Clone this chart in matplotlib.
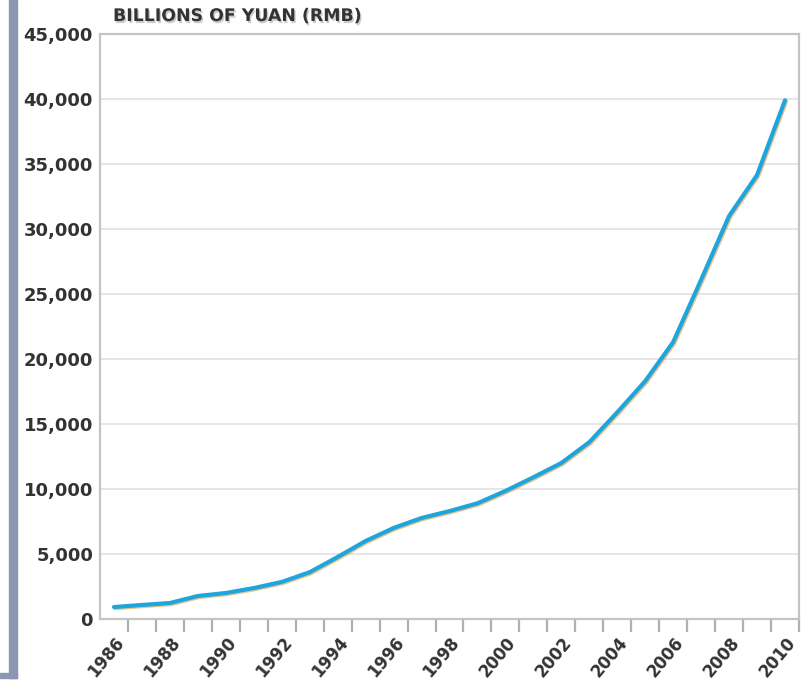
import numpy as np
import matplotlib
matplotlib.use('Agg')
import matplotlib.pyplot as plt
import matplotlib.patheffects as pe
from matplotlib.patches import Rectangle
from matplotlib.transforms import ScaledTranslation

# GDP, billions of yuan
years = [1986, 1987, 1988, 1989, 1990, 1991, 1992, 1993, 1994, 1995, 1996, 1997, 1998,
         1999, 2000, 2001, 2002, 2003, 2004, 2005, 2006, 2007, 2008, 2009, 2010]
gdp = [920, 1080, 1230, 1770, 2000, 2380, 2850, 3600, 4770, 6000, 7000, 7770, 8300,
       8900, 9850, 10900, 12000, 13600, 15900, 18300, 21300, 26100, 31000, 34150, 39900]
y_ticks = [0, 5000, 10000, 15000, 20000, 25000, 30000, 35000, 40000, 45000]
title = 'BILLIONS OF YUAN (RMB)'

text_color = '#333333'
frame_color = '#c4c4c4'

fig = plt.figure(figsize=(8.01, 6.84), dpi=100)
ax = fig.add_axes([100 / 801, 65 / 684, 699 / 801, 585 / 684])

# grey-blue page edge on the left
fig.patches.append(Rectangle((9 / 801, 6 / 684), 8 / 801, 678 / 684, transform=fig.transFigure,
                             color='#8c96b2', zorder=0))
fig.patches.append(Rectangle((0, 6 / 684), 17 / 801, 5 / 684, transform=fig.transFigure,
                             color='#8c96b2', zorder=0))

x = np.arange(len(years)) + 0.5
ax.plot(x, gdp, color='#1ea6dc', lw=3.0, solid_capstyle='round', solid_joinstyle='round',
        path_effects=[pe.SimpleLineShadow(offset=(0.8, -0.8), shadow_color='#e0a860', alpha=0.7),
                      pe.Normal()], zorder=3)

ax.set_xlim(0, len(years))
ax.set_ylim(0, 45000)

ax.set_yticks(y_ticks)
ax.set_yticklabels(['{:,}'.format(v) for v in y_ticks], fontsize=13, fontweight='bold',
                   color=text_color)
ax.tick_params(axis='y', length=0, pad=5)

ax.set_xticks(np.arange(1, len(years) + 1))
ax.set_xticklabels([str(y) if y % 2 == 0 else '' for y in years], rotation=50, ha='right',
                   va='bottom', rotation_mode='anchor', fontsize=12, fontweight='bold',
                   color=text_color)
ax.tick_params(axis='x', length=9, width=1.6, color='#b0b0b0', pad=9)
for lbl in ax.get_xticklabels():
    lbl.set_transform(lbl.get_transform() + ScaledTranslation(0, -1.5 / 100, fig.dpi_scale_trans))

ax.grid(axis='y', color='#e2e2e2', lw=1.2)
ax.set_axisbelow(True)
for s in ax.spines.values():
    s.set_color(frame_color)
    s.set_linewidth(1.6)

fig.text(113 / 801, 1 - 16 / 684, title, fontsize=12.5, fontweight='bold', color=text_color,
         va='center', ha='left',
         path_effects=[pe.withSimplePatchShadow(offset=(1, -1.5), shadow_rgbFace='#999999', alpha=0.5)])

plt.savefig('out.png', dpi=100)
